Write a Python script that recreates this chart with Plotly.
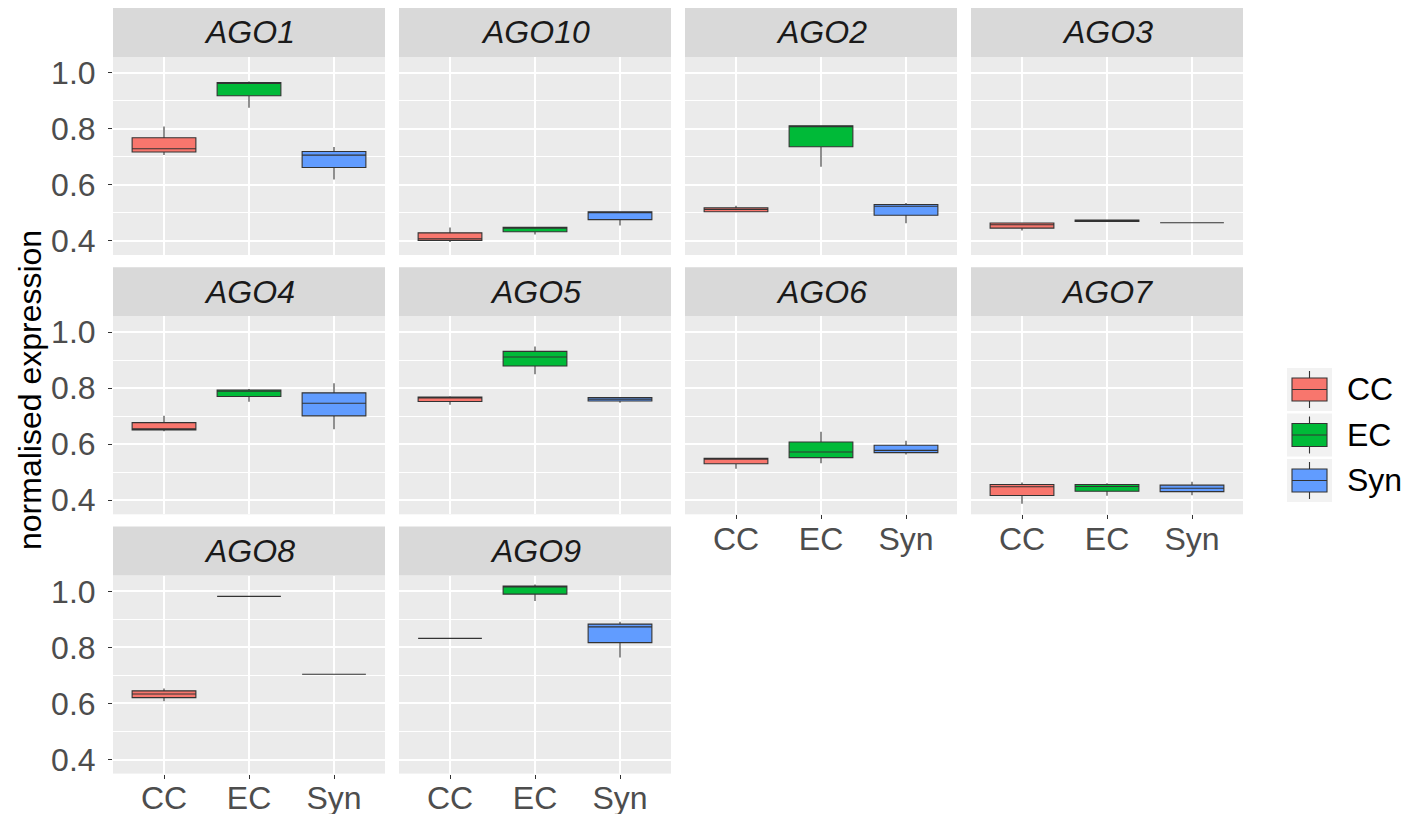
import plotly.graph_objects as go

W, H = 1417, 814

genes = ["AGO1", "AGO10", "AGO2", "AGO3", "AGO4", "AGO5", "AGO6", "AGO7", "AGO8", "AGO9"]
groups = ["CC", "EC", "Syn"]
colors = ["#F8766D", "#00BA38", "#619CFF"]

# per gene: values for CC, EC, Syn
lower_whisker = [
    [0.707, 0.875, 0.619], [0.396, 0.423, 0.455], [0.504, 0.665, 0.463], [0.437, 0.470, 0.465],
    [0.646, 0.751, 0.653], [0.741, 0.849, 0.748], [0.512, 0.532, 0.563], [0.388, 0.416, 0.418],
    [0.608, 0.982, 0.704], [0.832, 0.965, 0.764],
]
q1 = [
    [0.717, 0.918, 0.662], [0.402, 0.433, 0.476], [0.504, 0.736, 0.492], [0.446, 0.470, 0.465],
    [0.651, 0.770, 0.701], [0.752, 0.879, 0.754], [0.530, 0.552, 0.570], [0.417, 0.432, 0.431],
    [0.621, 0.982, 0.704], [0.832, 0.990, 0.817],
]
median = [
    [0.729, 0.964, 0.706], [0.408, 0.446, 0.501], [0.512, 0.810, 0.524], [0.458, 0.473, 0.465],
    [0.653, 0.789, 0.746], [0.765, 0.911, 0.760], [0.547, 0.572, 0.578], [0.448, 0.449, 0.443],
    [0.634, 0.982, 0.704], [0.832, 1.016, 0.873],
]
q3 = [
    [0.768, 0.965, 0.719], [0.429, 0.449, 0.504], [0.518, 0.811, 0.530], [0.464, 0.475, 0.465],
    [0.677, 0.793, 0.783], [0.768, 0.931, 0.766], [0.550, 0.608, 0.596], [0.456, 0.456, 0.454],
    [0.645, 0.982, 0.704], [0.832, 1.019, 0.883],
]
upper_whisker = [
    [0.808, 0.969, 0.735], [0.448, 0.451, 0.505], [0.526, 0.811, 0.535], [0.464, 0.475, 0.465],
    [0.701, 0.797, 0.817], [0.771, 0.948, 0.768], [0.552, 0.644, 0.612], [0.463, 0.461, 0.466],
    [0.653, 0.982, 0.704], [0.832, 1.024, 0.891],
]

y_ticks = [0.4, 0.6, 0.8, 1.0]
y_minor = [0.5, 0.7, 0.9]
y_range = [0.350, 1.056]

FONT = "Liberation Sans, Arial, sans-serif"
FS = 32
col_left = [113, 399, 685, 971]
panel_w = 272
row_top = [57, 316.3, 575.6]
panel_h = 198
strip_h = 49


def px_x(p):
    return p / W


def px_y(p):
    return 1 - p / H


fig = go.Figure()
layout = dict(
    width=W, height=H,
    margin=dict(l=0, r=0, t=0, b=0, autoexpand=False),
    paper_bgcolor="white",
    plot_bgcolor="#EBEBEB",
    showlegend=False,
    boxmode="overlay",
    font=dict(family=FONT, color="#4D4D4D"),
)
shapes = []
annotations = []

for i, g in enumerate(genes):
    r, c = divmod(i, 4)
    idx = i + 1
    xa = "x" if idx == 1 else f"x{idx}"
    ya = "y" if idx == 1 else f"y{idx}"
    for j, grp in enumerate(groups):
        fig.add_trace(go.Box(
            x=[grp],
            q1=[q1[i][j]], median=[median[i][j]], q3=[q3[i][j]],
            lowerfence=[lower_whisker[i][j]], upperfence=[upper_whisker[i][j]],
            width=0.75, whiskerwidth=0,
            fillcolor=colors[j],
            line=dict(color="#333333", width=1.1),
            boxpoints=False, hoverinfo="skip",
            name=grp, xaxis=xa, yaxis=ya,
        ))
    x0 = col_left[c]
    y0 = row_top[r]
    bottom_panel = (r == 2) or (r == 1 and c >= 2)
    xkey = "xaxis" if idx == 1 else f"xaxis{idx}"
    ykey = "yaxis" if idx == 1 else f"yaxis{idx}"
    layout[xkey] = dict(
        domain=[px_x(x0), px_x(x0 + panel_w)],
        anchor=ya,
        automargin=False,
        type="category",
        categoryorder="array", categoryarray=groups,
        range=[-0.6, 2.6],
        showgrid=True, gridcolor="white", gridwidth=1.5,
        zeroline=False, showline=False,
        showticklabels=bottom_panel,
        ticks="outside" if bottom_panel else "",
        ticklen=4, tickcolor="#333333", tickwidth=1,
        ticklabelstandoff=-8,
        tickfont=dict(size=FS, color="#4D4D4D", family=FONT),
        fixedrange=True,
    )
    layout[ykey] = dict(
        domain=[px_y(y0 + panel_h), px_y(y0)],
        anchor=xa,
        automargin=False,
        range=y_range,
        tickvals=y_ticks,
        ticktext=[f"{v:.1f}" for v in y_ticks],
        showgrid=True, gridcolor="white", gridwidth=1.5,
        minor=dict(tickvals=y_minor, showgrid=True, gridcolor="white", gridwidth=0.75, ticks=""),
        zeroline=False, showline=False,
        showticklabels=(c == 0),
        ticks="outside" if c == 0 else "",
        ticklen=4, tickcolor="#333333", tickwidth=1,
        ticklabelstandoff=6,
        tickfont=dict(size=FS, color="#4D4D4D", family=FONT),
        fixedrange=True,
    )
    # strip
    shapes.append(dict(
        type="rect", xref="paper", yref="paper", layer="below",
        x0=px_x(x0), x1=px_x(x0 + panel_w),
        y0=px_y(y0), y1=px_y(y0 - strip_h),
        fillcolor="#D9D9D9", line=dict(width=0),
    ))
    annotations.append(dict(
        xref="paper", yref="paper",
        x=px_x(x0 + panel_w / 2), y=px_y(y0 - strip_h / 2),
        text=f"<i>{g}</i>", showarrow=False,
        font=dict(size=FS, color="#1A1A1A", family=FONT),
        xanchor="center", yanchor="middle",
    ))

# y axis title
annotations.append(dict(
    xref="paper", yref="paper", x=px_x(30), y=px_y(390),
    text="normalised expression", textangle=-90, showarrow=False,
    font=dict(size=FS, color="black", family=FONT),
    xanchor="center", yanchor="middle",
))

# legend (drawn as keys)
key_x0, key_w = 1287, 45
key_tops = [367, 412.5, 458]
key_h = 45
for j, grp in enumerate(groups):
    kt = key_tops[j]
    shapes.append(dict(type="rect", xref="paper", yref="paper",
                       x0=px_x(key_x0), x1=px_x(key_x0 + key_w),
                       y0=px_y(kt + key_h - 1), y1=px_y(kt + 1),
                       fillcolor="#F2F2F2", line=dict(width=0)))
    cx = key_x0 + key_w / 2
    shapes.append(dict(type="line", xref="paper", yref="paper",
                       x0=px_x(cx), x1=px_x(cx), y0=px_y(kt + 4), y1=px_y(kt + key_h - 4),
                       line=dict(color="#333333", width=1.1)))
    shapes.append(dict(type="rect", xref="paper", yref="paper",
                       x0=px_x(key_x0 + 5), x1=px_x(key_x0 + key_w - 5),
                       y0=px_y(kt + 34), y1=px_y(kt + 11),
                       fillcolor=colors[j], line=dict(color="#333333", width=1.1)))
    shapes.append(dict(type="line", xref="paper", yref="paper",
                       x0=px_x(key_x0 + 5), x1=px_x(key_x0 + key_w - 5),
                       y0=px_y(kt + 22.5), y1=px_y(kt + 22.5),
                       line=dict(color="#333333", width=1.1)))
    annotations.append(dict(
        xref="paper", yref="paper", x=px_x(1345), y=px_y(kt + key_h / 2),
        text=grp, showarrow=False, xanchor="left", yanchor="middle",
        font=dict(size=FS, color="black", family=FONT),
    ))

layout["shapes"] = shapes
layout["annotations"] = annotations
fig.update_layout(**layout)
fig.write_html(
    "out.html",
    config={"displayModeBar": False, "responsive": False},
    post_script="document.body.style.margin='0';document.body.style.overflow='hidden';"
                "document.documentElement.style.overflow='hidden';",
)
